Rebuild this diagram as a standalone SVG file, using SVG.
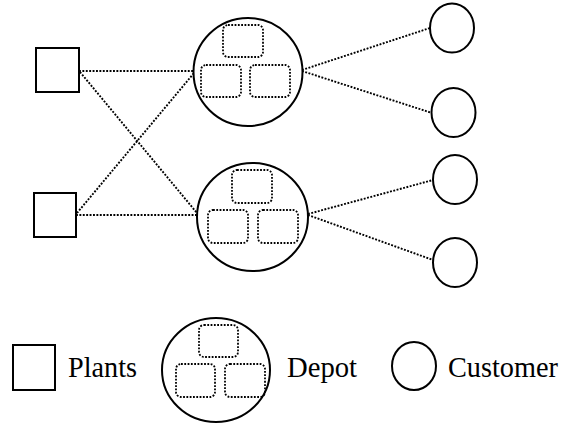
<svg xmlns="http://www.w3.org/2000/svg" width="565" height="425" viewBox="0 0 565 425">
<style>
.plant{fill:#fff;stroke:#000;stroke-width:2}
.ring{fill:#fff;stroke:#000;stroke-width:2}
.box{fill:none;stroke:#000;stroke-width:1.8;stroke-dasharray:1.8 1.5}
.link{fill:none;stroke:#000;stroke-width:1.9;stroke-dasharray:1.9 1.5}
.lbl{font-family:"Liberation Serif","Times New Roman",serif;font-size:30px;fill:#000}
</style>
<rect width="565" height="425" fill="#fff"/>
<g id="connectors">
<line class="link" x1="79" y1="71" x2="193" y2="71"/>
<line class="link" x1="80" y1="72" x2="197" y2="213"/>
<line class="link" x1="76" y1="215" x2="197" y2="215"/>
<line class="link" x1="77" y1="213" x2="194" y2="73"/>
<line class="link" x1="302" y1="70" x2="430" y2="28"/>
<line class="link" x1="302" y1="71" x2="432" y2="113"/>
<line class="link" x1="308" y1="214" x2="433" y2="180"/>
<line class="link" x1="308" y1="215" x2="433" y2="260"/>
</g>
<g id="plant1"><rect class="plant" x="36" y="48" width="43" height="44"/></g>
<g id="plant2"><rect class="plant" x="34" y="193" width="42" height="44"/></g>
<g id="depot1">
<ellipse class="ring" cx="248" cy="72" rx="54.5" ry="54"/>
<rect class="box" x="223" y="25" width="40" height="32" rx="5"/>
<rect class="box" x="201" y="65" width="40" height="32" rx="5"/>
<rect class="box" x="250" y="65" width="40" height="32" rx="5"/>
</g>
<g id="depot2">
<ellipse class="ring" cx="252.5" cy="217" rx="55.5" ry="54"/>
<rect class="box" x="232" y="170" width="40" height="33" rx="5"/>
<rect class="box" x="208" y="210" width="40" height="33" rx="5"/>
<rect class="box" x="258" y="210" width="40" height="33" rx="5"/>
</g>
<g id="customer1"><ellipse class="ring" cx="452" cy="28" rx="22" ry="24.5"/></g>
<g id="customer2"><ellipse class="ring" cx="453.5" cy="112.5" rx="22" ry="24.5"/></g>
<g id="customer3"><ellipse class="ring" cx="455" cy="179.5" rx="22" ry="24.5"/></g>
<g id="customer4"><ellipse class="ring" cx="455" cy="262.5" rx="22" ry="24.5"/></g>
<g id="legend-plants">
<rect class="plant" x="13" y="345" width="42" height="45"/>
<text class="lbl" x="68" y="377" textLength="69" lengthAdjust="spacingAndGlyphs">Plants</text>
</g>
<g id="legend-depot">
<ellipse class="ring" cx="216" cy="370" rx="54" ry="52"/>
<rect class="box" x="199" y="325" width="39" height="32" rx="5"/>
<rect class="box" x="176" y="364" width="39" height="33" rx="5"/>
<rect class="box" x="225" y="364" width="40" height="33" rx="5"/>
<text class="lbl" x="287" y="377" textLength="70" lengthAdjust="spacingAndGlyphs">Depot</text>
</g>
<g id="legend-customer">
<ellipse class="ring" cx="414" cy="366" rx="22" ry="24"/>
<text class="lbl" x="448" y="377" textLength="110" lengthAdjust="spacingAndGlyphs">Customer</text>
</g>
</svg>
